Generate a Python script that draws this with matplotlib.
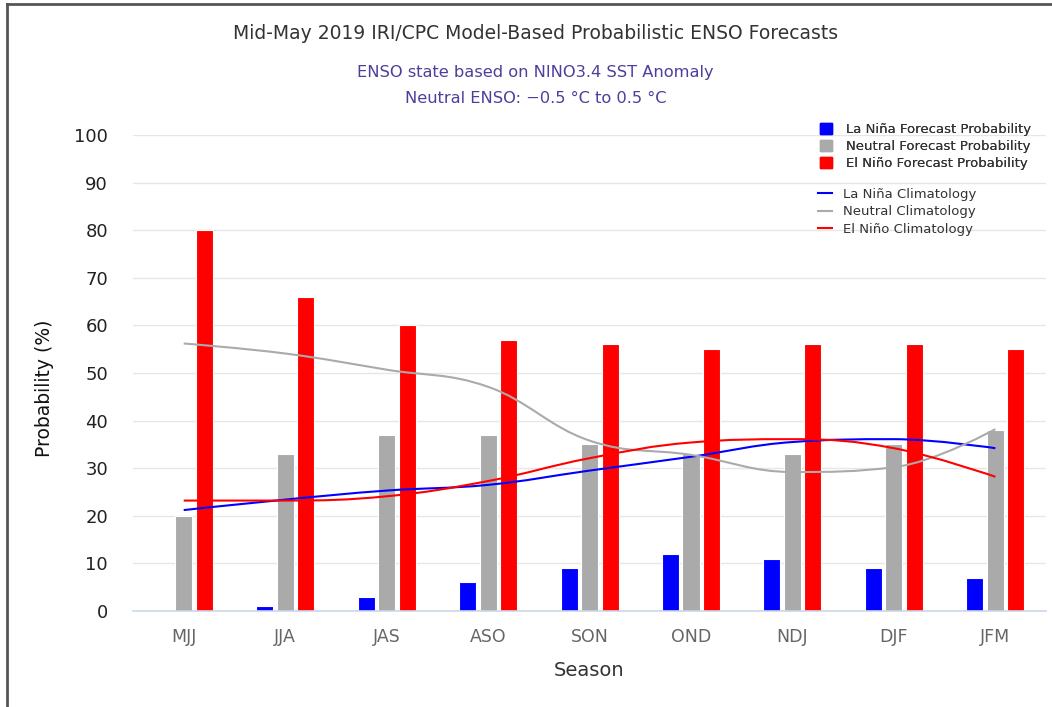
import numpy as np
import matplotlib
matplotlib.use("Agg")
import matplotlib.pyplot as plt
from matplotlib.path import Path
from matplotlib.patches import PathPatch, Patch
from matplotlib.lines import Line2D

plt.rcParams['font.family'] = ['DejaVu Sans']

# データ
seasons = ['MJJ', 'JJA', 'JAS', 'ASO', 'SON', 'OND', 'NDJ', 'DJF', 'JFM']
lanina_prob = [0, 1, 3, 6, 9, 12, 11, 9, 7]
neutral_prob = [20, 33, 37, 37, 35, 33, 33, 35, 38]
elnino_prob = [80, 66, 60, 57, 56, 55, 56, 56, 55]

lanina_clim = [21.2, 23.4, 25.3, 26.5, 29.5, 32.4, 35.5, 36.1, 34.2]
neutral_clim = [56.2, 54.1, 50.7, 47.1, 35.8, 32.8, 29.2, 30.2, 38.2]
elnino_clim = [23.2, 23.2, 24.1, 27.3, 32.1, 35.4, 36.1, 34.2, 28.2]

BLUE = '#0000ff'
GRAY = '#aaaaaa'
RED = '#ff0000'


# Highcharts 風のスプライン（ベジェ曲線）
def spline_path(xs, ys, smoothing=1.5):
    n = len(xs)
    denom = smoothing + 1
    left = [None] * n
    right = [None] * n
    for i in range(n):
        x, y = xs[i], ys[i]
        if 0 < i < n - 1:
            lx = (smoothing * x + xs[i - 1]) / denom
            ly = (smoothing * y + ys[i - 1]) / denom
            rx = (smoothing * x + xs[i + 1]) / denom
            ry = (smoothing * y + ys[i + 1]) / denom
            corr = (ry - ly) * (rx - x) / (rx - lx) + y - ry
            ly += corr
            ry += corr
            if ly > ys[i - 1] and ly > y:
                ly = max(ys[i - 1], y)
                ry = 2 * y - ly
            elif ly < ys[i - 1] and ly < y:
                ly = min(ys[i - 1], y)
                ry = 2 * y - ly
            if ry > ys[i + 1] and ry > y:
                ry = max(ys[i + 1], y)
                ly = 2 * y - ry
            elif ry < ys[i + 1] and ry < y:
                ry = min(ys[i + 1], y)
                ly = 2 * y - ry
            left[i] = (lx, ly)
            right[i] = (rx, ry)
        else:
            left[i] = (x, y)
            right[i] = (x, y)
    verts = [(xs[0], ys[0])]
    codes = [Path.MOVETO]
    for i in range(1, n):
        verts += [right[i - 1], left[i], (xs[i], ys[i])]
        codes += [Path.CURVE4] * 3
    return Path(verts, codes)


fig = plt.figure(figsize=(10.52, 7.07), dpi=100)
ax = fig.add_axes([0.1264, 0.1358, 0.868, 0.6732])

x = np.arange(len(seasons))
w = 0.168
off = 0.202
ax.bar(x - off, lanina_prob, w, color=BLUE, edgecolor='white', linewidth=0.8, zorder=2)
ax.bar(x, neutral_prob, w, color=GRAY, edgecolor='white', linewidth=0.8, zorder=2)
ax.bar(x + off, elnino_prob, w, color=RED, edgecolor='white', linewidth=0.8, zorder=2)

for vals, c in [(lanina_clim, BLUE), (neutral_clim, GRAY), (elnino_clim, RED)]:
    p = spline_path(list(x.astype(float)), vals)
    ax.add_patch(PathPatch(p, facecolor='none', edgecolor=c, lw=1.5, zorder=3))

ax.set_xlim(-0.5, len(seasons) - 0.5)
ax.set_ylim(0, 100)
ax.set_yticks(range(0, 101, 10))
ax.set_xticks(x)
ax.set_xticklabels(seasons, color='#666666', fontsize=12.5)
ax.tick_params(axis='y', length=0, pad=18, labelsize=13, labelcolor='#222222')
ax.tick_params(axis='x', length=0, pad=12)
ax.grid(axis='y', color='#e6e6e6', linewidth=1, zorder=0)
ax.set_axisbelow(True)
for s in ['top', 'right', 'left']:
    ax.spines[s].set_visible(False)
ax.spines['bottom'].set_color('#ccd6eb')
ax.spines['bottom'].set_linewidth(1.2)
ax.spines['bottom'].set_zorder(4)

# タイトル
fig.text(0.509, 0.952, 'Mid-May 2019 IRI/CPC Model-Based Probabilistic ENSO Forecasts',
         ha='center', va='center', fontsize=13.5, color='#333333')
fig.text(0.509, 0.898, 'ENSO state based on NINO3.4 SST Anomaly',
         ha='center', va='center', fontsize=11.7, color='#4d3f9c')
fig.text(0.509, 0.861, 'Neutral ENSO: \u22120.5 \u00b0C to 0.5 \u00b0C',
         ha='center', va='center', fontsize=11.7, color='#4d3f9c')
fig.text(44 / 1052, 1 - 388 / 707, 'Probability (%)', rotation=90,
         ha='center', va='center', fontsize=13.5, color='#111111')
fig.text(589 / 1052, 1 - 670 / 707, 'Season', ha='center', va='center',
         fontsize=14, color='#333333')

# 凡例
bar_handles = [Patch(color=BLUE), Patch(color=GRAY), Patch(color=RED)]
bar_labels = ['La Niña Forecast Probability', 'Neutral Forecast Probability',
              'El Niño Forecast Probability']
leg1 = fig.legend(bar_handles, bar_labels, loc='upper left',
                  bbox_to_anchor=(808 / 1052, 1 - 111 / 707), frameon=False,
                  fontsize=9.5, handlelength=0.9, handleheight=0.9,
                  handletextpad=1.1, labelspacing=0.32, labelcolor='#333333')
line_handles = [Line2D([], [], color=BLUE, lw=1.5), Line2D([], [], color=GRAY, lw=1.5),
                Line2D([], [], color=RED, lw=1.5)]
line_labels = ['La Niña Climatology', 'Neutral Climatology', 'El Niño Climatology']
fig.legend(line_handles, line_labels, loc='upper left',
           bbox_to_anchor=(806 / 1052, 1 - 176 / 707), frameon=False,
           fontsize=9.5, handlelength=1.1, handletextpad=0.8,
           labelspacing=0.35, labelcolor='#333333')
fig.add_artist(leg1)

# 枠線
fig.add_artist(Line2D([7 / 1052, 7 / 1052], [0, 1 - 4 / 707], color='#555555', lw=2,
                      transform=fig.transFigure))
fig.add_artist(Line2D([7 / 1052, 1], [1 - 4 / 707, 1 - 4 / 707], color='#555555', lw=2,
                      transform=fig.transFigure))

fig.savefig('out.png', dpi=100)
